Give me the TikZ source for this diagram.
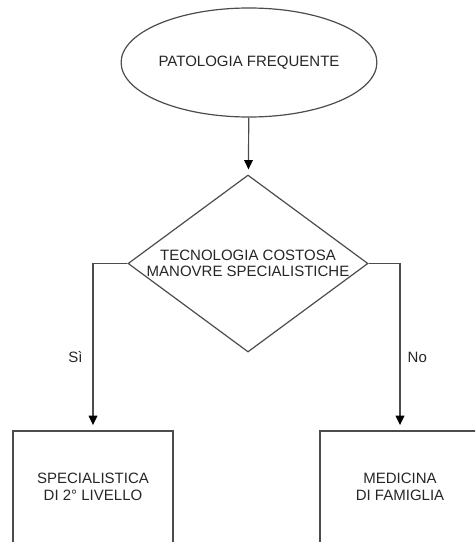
\documentclass[tikz,border=0pt]{standalone}
\usepackage{fontspec}
\setmainfont{Liberation Sans}
\usetikzlibrary{shapes.geometric,arrows.meta,positioning}

\begin{document}
\begin{tikzpicture}[x=0.75pt, y=-0.75pt,
    every node/.style={font=\fontsize{11.25}{12.5}\selectfont, text=black!85},
    line/.style={draw=black!70, line width=0.9pt},
    arr/.style={line, -{Triangle[length=7pt,width=6.5pt,fill=black,color=black]}, shorten >=4pt},
    startnode/.style={ellipse, line, minimum width=159pt, minimum height=81.75pt, inner sep=0pt},
    choice/.style={diamond, line, minimum width=180pt, minimum height=132.75pt, inner sep=-1.5pt, aspect=1.36, align=center},
    outcome/.style={rectangle, line, minimum width=120pt, minimum height=84pt, align=center}]
    \clip (0,0) rectangle (475,542);

    % blocchi
    \node[startnode] (pat) at (249,62.5) {PATOLOGIA FREQUENTE};
    \node[choice] (test) at (248,263.5) {TECNOLOGIA COSTOSA\\MANOVRE SPECIALISTICHE};
    \node[outcome] (spec) at (93,487) {SPECIALISTICA\\DI 2° LIVELLO};
    \node[outcome] (fam) at (400,487) {MEDICINA\\DI FAMIGLIA};

    % frecce
    \draw[arr] (pat) -- (test);
    \draw[arr] (test.west) -| node[pos=0.78, left=4pt] {Sì} (spec.north);
    \draw[arr] (test.east) -| node[pos=0.78, right=2pt] {No} (fam.north);
\end{tikzpicture}
\end{document}
